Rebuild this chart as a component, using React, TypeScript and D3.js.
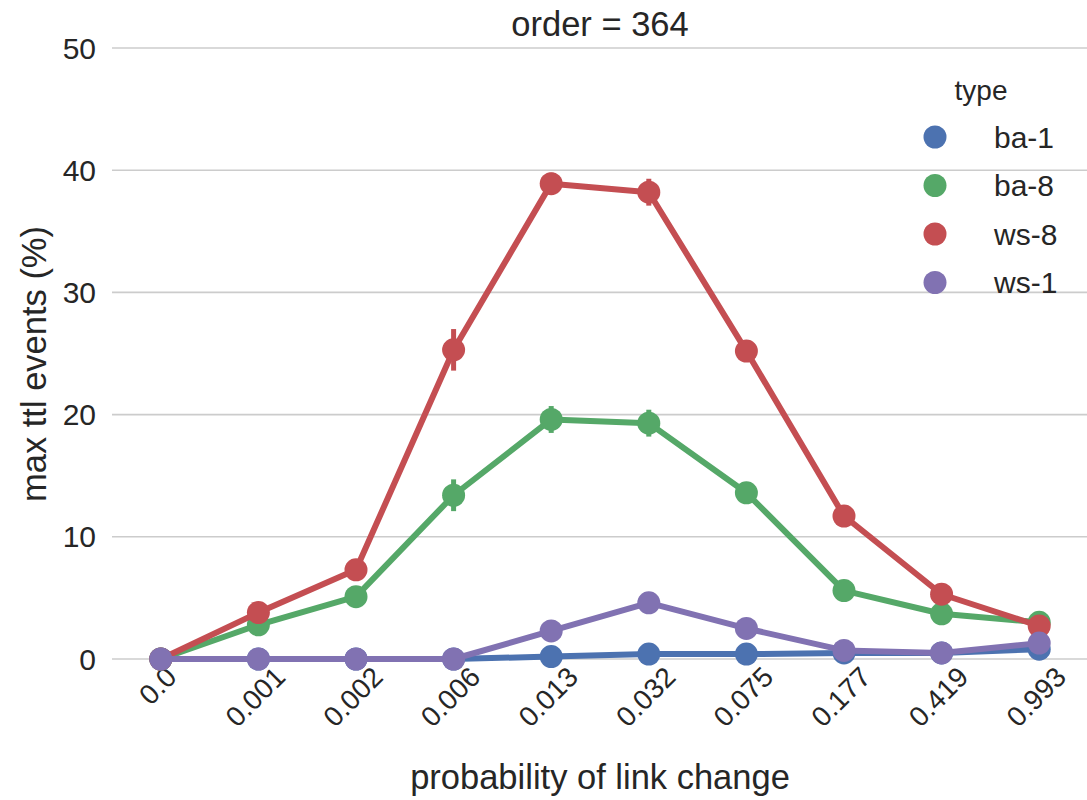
import React, { useEffect, useRef } from "react";
import * as d3 from "d3";

// Link-change probabilities shown along the x axis
const categories = ["0.0", "0.001", "0.002", "0.006", "0.013", "0.032", "0.075", "0.177", "0.419", "0.993"];

// Mean of max ttl events (%) per network type
const ba1 = [0, 0, 0, 0, 0.2, 0.4, 0.4, 0.5, 0.5, 0.8];
const ba8 = [0, 2.8, 5.1, 13.4, 19.6, 19.3, 13.6, 5.6, 3.7, 3.0];
const ws8 = [0, 3.8, 7.3, 25.3, 38.9, 38.2, 25.2, 11.7, 5.3, 2.7];
const ws1 = [0, 0, 0, 0, 2.3, 4.6, 2.5, 0.7, 0.5, 1.3];

// Half-widths of the confidence intervals
const ba1Err = [0, 0, 0, 0, 0.1, 0.1, 0.1, 0.1, 0.1, 0.2];
const ba8Err = [0, 0.4, 0.5, 1.3, 1.1, 1.1, 0.7, 0.5, 0.3, 0.3];
const ws8Err = [0, 0.5, 0.6, 1.7, 0.9, 1.1, 0.8, 0.6, 0.4, 0.3];
const ws1Err = [0, 0, 0, 0, 0.6, 0.5, 0.4, 0.2, 0.1, 0.3];

const yTicks = [0, 10, 20, 30, 40, 50];

const seriesNames = ["ba-1", "ba-8", "ws-8", "ws-1"];
const seriesColors = ["#4C72B0", "#55A868", "#C44E52", "#8172B2"];

const W = 1087;
const H = 800;
const FONT = "'Liberation Sans', Arial, sans-serif";
const TEXT = "#262626";

export default function App() {
  const ref = useRef<SVGSVGElement | null>(null);

  useEffect(() => {
    const svg = d3.select(ref.current);
    svg.selectAll("*").remove();

    const left = 112;
    const right = 1088;
    const top = 48;
    const bottom = 659;

    const x = d3.scalePoint<string>().domain(categories).range([left, right]).padding(0.5);
    const y = d3.scaleLinear().domain([0, 50]).range([bottom, top]);

    svg.append("rect").attr("width", W).attr("height", H).attr("fill", "#ffffff");

    // horizontal grid
    svg
      .append("g")
      .selectAll("line")
      .data(yTicks)
      .join("line")
      .attr("x1", left)
      .attr("x2", right)
      .attr("y1", (d) => y(d))
      .attr("y2", (d) => y(d))
      .attr("stroke", "#cccccc")
      .attr("stroke-width", 1.6);

    // y tick labels
    svg
      .append("g")
      .selectAll("text")
      .data(yTicks)
      .join("text")
      .attr("x", 96)
      .attr("y", (d) => y(d))
      .attr("text-anchor", "end")
      .attr("dominant-baseline", "central")
      .attr("font-family", FONT)
      .attr("font-size", 30)
      .attr("fill", TEXT)
      .text((d) => String(d));

    // rotated x tick labels, bounding box centred under each category
    const tickSize = 28;
    const xt = svg.append("g");
    categories.forEach((c) => {
      const t = xt
        .append("text")
        .attr("text-anchor", "middle")
        .attr("dominant-baseline", "central")
        .attr("font-family", FONT)
        .attr("font-size", tickSize)
        .attr("fill", TEXT)
        .text(c);
      const w = (t.node() as SVGTextElement).getComputedTextLength();
      const h = tickSize * 0.72;
      const cy = 665 + (w + h) / (2 * Math.SQRT2);
      t.attr("transform", `translate(${(x(c) as number) - 3},${cy}) rotate(-45)`);
    });

    const series = [
      { vals: ba1, err: ba1Err },
      { vals: ba8, err: ba8Err },
      { vals: ws8, err: ws8Err },
      { vals: ws1, err: ws1Err },
    ];

    const line = d3
      .line<number>()
      .x((_, i) => x(categories[i]) as number)
      .y((d) => y(d));

    series.forEach((s, k) => {
      const color = seriesColors[k];
      const g = svg.append("g");
      g.append("path")
        .attr("d", line(s.vals) as string)
        .attr("fill", "none")
        .attr("stroke", color)
        .attr("stroke-width", 6)
        .attr("stroke-linejoin", "round");
      g.selectAll("line.err")
        .data(s.vals)
        .join("line")
        .attr("class", "err")
        .attr("x1", (_, i) => x(categories[i]) as number)
        .attr("x2", (_, i) => x(categories[i]) as number)
        .attr("y1", (d, i) => y(d - s.err[i]))
        .attr("y2", (d, i) => y(d + s.err[i]))
        .attr("stroke", color)
        .attr("stroke-width", 5);
      g.selectAll("circle")
        .data(s.vals)
        .join("circle")
        .attr("cx", (_, i) => x(categories[i]) as number)
        .attr("cy", (d) => y(d))
        .attr("r", 11.5)
        .attr("fill", color);
    });

    // title
    svg
      .append("text")
      .attr("x", (left + right) / 2)
      .attr("y", 36)
      .attr("text-anchor", "middle")
      .attr("font-family", FONT)
      .attr("font-size", 34.5)
      .attr("fill", TEXT)
      .text("order = 364");

    // axis labels
    svg
      .append("text")
      .attr("x", (left + right) / 2)
      .attr("y", 789)
      .attr("text-anchor", "middle")
      .attr("font-family", FONT)
      .attr("font-size", 34.5)
      .attr("fill", TEXT)
      .text("probability of link change");

    svg
      .append("text")
      .attr("transform", `translate(46,364) rotate(-90)`)
      .attr("text-anchor", "middle")
      .attr("font-family", FONT)
      .attr("font-size", 34.5)
      .attr("fill", TEXT)
      .text("max ttl events (%)");

    // legend
    const lg = svg.append("g");
    lg.append("text")
      .attr("x", 981)
      .attr("y", 100)
      .attr("text-anchor", "middle")
      .attr("font-family", FONT)
      .attr("font-size", 28)
      .attr("fill", TEXT)
      .text("type");
    seriesNames.forEach((name, i) => {
      const cy = 137 + i * 48.5;
      lg.append("circle").attr("cx", 935).attr("cy", cy).attr("r", 11.5).attr("fill", seriesColors[i]);
      lg.append("text")
        .attr("x", 994)
        .attr("y", cy)
        .attr("dominant-baseline", "central")
        .attr("font-family", FONT)
        .attr("font-size", 30)
        .attr("fill", TEXT)
        .text(name);
    });
  }, []);

  return (
    <svg
      ref={ref}
      width={W}
      height={H}
      style={{ position: "absolute", left: 0, top: 0, display: "block" }}
    />
  );
}
